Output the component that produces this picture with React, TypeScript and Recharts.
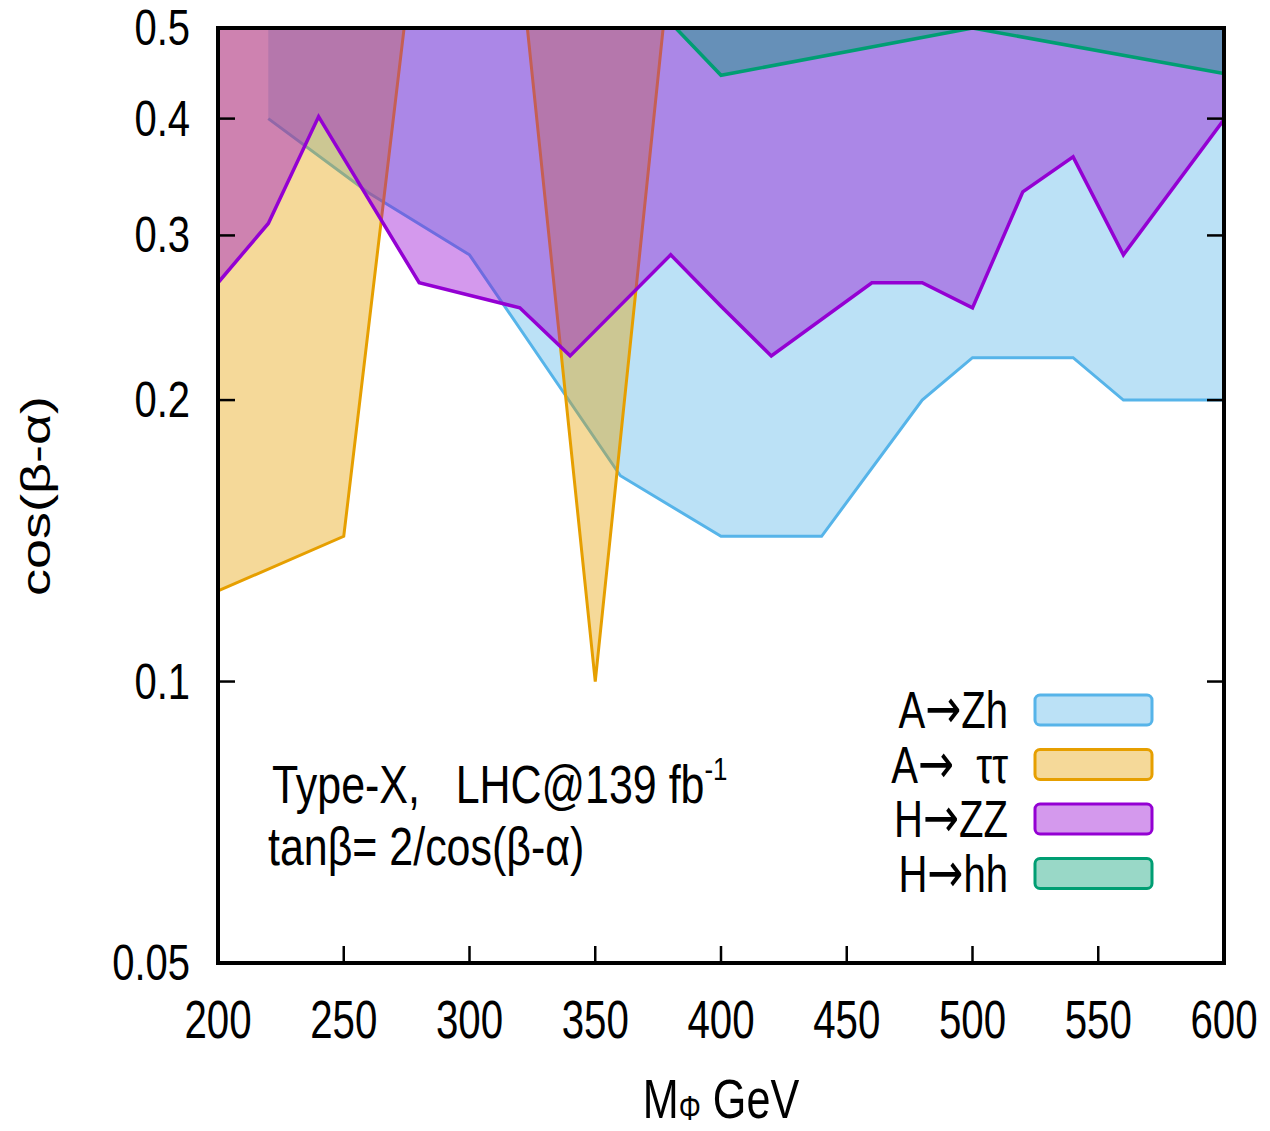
import React from 'react';
import { ComposedChart, Area, XAxis, YAxis, ReferenceArea, Legend } from 'recharts';

// axis ticks
const massTicks = [200, 250, 300, 350, 400, 450, 500, 550, 600];
const cosTicks = [0.05, 0.1, 0.2, 0.3, 0.4, 0.5];

// A -> Zh exclusion (lower edge, excluded above)
const azhMass = [220, 260, 300, 360, 400, 440, 480, 500, 540, 560, 600];
const azhCos = [0.4, 0.333, 0.286, 0.166, 0.143, 0.143, 0.2, 0.222, 0.222, 0.2, 0.2];

// A -> tautau, two separate pieces
const tautauLowMass = [200, 250, 274];
const tautauLowCos = [0.125, 0.143, 0.5];
const tautauPeakMass = [323, 350, 377];
const tautauPeakCos = [0.5, 0.1, 0.5];

// H -> ZZ
const hzzMass = [200, 220, 240, 280, 320, 340, 380, 400, 420, 460, 480, 500, 520, 540, 560, 600];
const hzzCos = [0.267, 0.309, 0.402, 0.267, 0.251, 0.223, 0.286, 0.252, 0.223, 0.267, 0.267, 0.251, 0.334, 0.364, 0.286, 0.399];

// H -> hh
const hhhMass = [382, 400, 500, 600];
const hhhCos = [0.5, 0.445, 0.5, 0.447];

// legend: [parent, daughters]
const legendParents = ['A', 'A', 'H', 'H'];
const legendDaughters = ['Zh', '  ττ', 'ZZ', 'hh'];
const legendColors = ['#56b4e9', '#e69f00', '#9400d3', '#009e73'];

const toRows = (mass: number[], cos: number[]) => mass.map((m, i) => ({ m, c: cos[i] }));

const FONT = '"Liberation Sans", Arial, Helvetica, sans-serif';
const ARROW_FONT = '"DejaVu Sans", sans-serif';
const TICK_LEN = 17;

const BottomTick = ({ x, y, payload }: any) => (
  <g>
    <line x1={x} y1={y} x2={x} y2={y - TICK_LEN} stroke="#000" strokeWidth={2.5} />
    <g transform={`translate(${x},${y + 75}) scale(0.76,1)`}>
      <text textAnchor="middle" fontSize={53} fontFamily={FONT} fill="#000">
        {payload.value}
      </text>
    </g>
  </g>
);

const TopTick = ({ x, y }: any) => (
  <line x1={x} y1={y} x2={x} y2={y + TICK_LEN} stroke="#000" strokeWidth={2.5} />
);

const LeftTick = ({ x, y, payload }: any) => (
  <g>
    <line x1={x} y1={y} x2={x + TICK_LEN} y2={y} stroke="#000" strokeWidth={2.5} />
    <g transform={`translate(${x - 28},${y + 17}) scale(0.8,1)`}>
      <text textAnchor="end" fontSize={50} fontFamily={FONT} fill="#000">
        {String(payload.value)}
      </text>
    </g>
  </g>
);

const RightTick = ({ x, y }: any) => (
  <line x1={x} y1={y} x2={x - TICK_LEN} y2={y} stroke="#000" strokeWidth={2.5} />
);

const renderLegend = () => (
  <svg width={310} height={240} style={{ overflow: 'visible' }}>
    {legendParents.map((p, i) => (
      <g key={i} transform={`translate(0,${30 + i * 54.5})`}>
        <g transform="translate(148,18) scale(0.77,1)">
          <text textAnchor="end" fontSize={52} fontFamily={FONT} fill="#000" style={{ whiteSpace: 'pre' }}>
            {p}
            <tspan fontFamily={ARROW_FONT} fontSize={56}>→</tspan>
            {legendDaughters[i]}
          </text>
        </g>
        <rect
          x={175}
          y={-15}
          width={117}
          height={30}
          rx={5}
          fill={legendColors[i]}
          fillOpacity={0.4}
          stroke={legendColors[i]}
          strokeWidth={3}
        />
      </g>
    ))}
  </svg>
);

export default function App() {
  return (
    <div style={{ position: 'relative', width: 1262, height: 1123 }}>
      <ComposedChart width={1262} height={1123} margin={{ top: 0, right: 0, bottom: 0, left: 0 }}>
        <XAxis
          xAxisId="bottom"
          dataKey="m"
          type="number"
          domain={[200, 600]}
          ticks={massTicks}
          allowDataOverflow
          height={168}
          axisLine={false}
          tickLine={false}
          tickSize={0}
          tickMargin={0}
          tick={<BottomTick />}
          interval={0}
        />
        <XAxis
          xAxisId="top"
          orientation="top"
          type="number"
          domain={[200, 600]}
          ticks={massTicks}
          allowDataOverflow
          height={20}
          axisLine={false}
          tickLine={false}
          tickSize={0}
          tickMargin={0}
          tick={<TopTick />}
          interval={0}
        />
        <YAxis
          yAxisId="left"
          type="number"
          scale="log"
          domain={[0.05, 0.5]}
          ticks={cosTicks}
          allowDataOverflow
          width={210}
          axisLine={false}
          tickLine={false}
          tickSize={0}
          tickMargin={0}
          tick={<LeftTick />}
          interval={0}
        />
        <YAxis
          yAxisId="right"
          orientation="right"
          type="number"
          scale="log"
          domain={[0.05, 0.5]}
          ticks={cosTicks}
          allowDataOverflow
          width={46}
          axisLine={false}
          tickLine={false}
          tickSize={0}
          tickMargin={0}
          tick={<RightTick />}
          interval={0}
        />
        <Area
          xAxisId="bottom"
          yAxisId="left"
          data={toRows(azhMass, azhCos)}
          dataKey="c"
          name="A→Zh"
          type="linear"
          baseValue={0.5}
          stroke="#56b4e9"
          strokeWidth={3}
          fill="#56b4e9"
          fillOpacity={0.4}
          dot={false}
          activeDot={false}
          isAnimationActive={false}
        />
        <Area
          xAxisId="bottom"
          yAxisId="left"
          data={toRows(tautauLowMass, tautauLowCos)}
          dataKey="c"
          name="A→ ττ"
          type="linear"
          baseValue={0.5}
          stroke="#e69f00"
          strokeWidth={3}
          fill="#e69f00"
          fillOpacity={0.4}
          dot={false}
          activeDot={false}
          isAnimationActive={false}
        />
        <Area
          xAxisId="bottom"
          yAxisId="left"
          data={toRows(tautauPeakMass, tautauPeakCos)}
          dataKey="c"
          name="A→ ττ peak"
          legendType="none"
          type="linear"
          baseValue={0.5}
          stroke="#e69f00"
          strokeWidth={3}
          fill="#e69f00"
          fillOpacity={0.4}
          dot={false}
          activeDot={false}
          isAnimationActive={false}
        />
        <Area
          xAxisId="bottom"
          yAxisId="left"
          data={toRows(hzzMass, hzzCos)}
          dataKey="c"
          name="H→ZZ"
          type="linear"
          baseValue={0.5}
          stroke="#9400d3"
          strokeWidth={3.5}
          fill="#9400d3"
          fillOpacity={0.4}
          dot={false}
          activeDot={false}
          isAnimationActive={false}
        />
        <Area
          xAxisId="bottom"
          yAxisId="left"
          data={toRows(hhhMass, hhhCos)}
          dataKey="c"
          name="H→hh"
          type="linear"
          baseValue={0.5}
          stroke="#009e73"
          strokeWidth={3.5}
          fill="#009e73"
          fillOpacity={0.4}
          dot={false}
          activeDot={false}
          isAnimationActive={false}
        />
        <ReferenceArea
          xAxisId="bottom"
          yAxisId="left"
          x1={200}
          x2={600}
          y1={0.05}
          y2={0.5}
          fill="none"
          fillOpacity={0}
          stroke="#000"
          strokeWidth={4}
          ifOverflow="visible"
        />
        <Legend
          layout="vertical"
          align="center"
          verticalAlign="middle"
          content={renderLegend}
          wrapperStyle={{ left: 852, top: 672, width: 310, height: 240 }}
        />
      </ComposedChart>
      <svg
        width={1262}
        height={1123}
        style={{ position: 'absolute', left: 0, top: 0, pointerEvents: 'none' }}
      >
        <g transform="translate(42,488) rotate(-90) scale(1.35,1)">
          <text textAnchor="middle" fontSize={40} fontFamily={FONT} fill="#000">
            cos(β-α)
          </text>
        </g>
        <g transform="translate(713,1110) scale(0.77,1)">
          <text textAnchor="middle" fontSize={56} fontFamily={FONT} fill="#000">
            M
            <tspan fontSize={36} dy={2}>Φ</tspan>
            <tspan dy={-2}> GeV</tspan>
          </text>
        </g>
        <g transform="translate(264,795) scale(0.81,1)">
          <text fontSize={53} fontFamily={FONT} fill="#000" style={{ whiteSpace: 'pre' }}>
            {'Type-X,   LHC@139 fb'}
            <tspan fontSize={32} dy={-23}>-1</tspan>
          </text>
        </g>
        <g transform="translate(260,857) scale(0.81,1)">
          <text fontSize={53} fontFamily={FONT} fill="#000">
            tanβ= 2/cos(β-α)
          </text>
        </g>
      </svg>
    </div>
  );
}
